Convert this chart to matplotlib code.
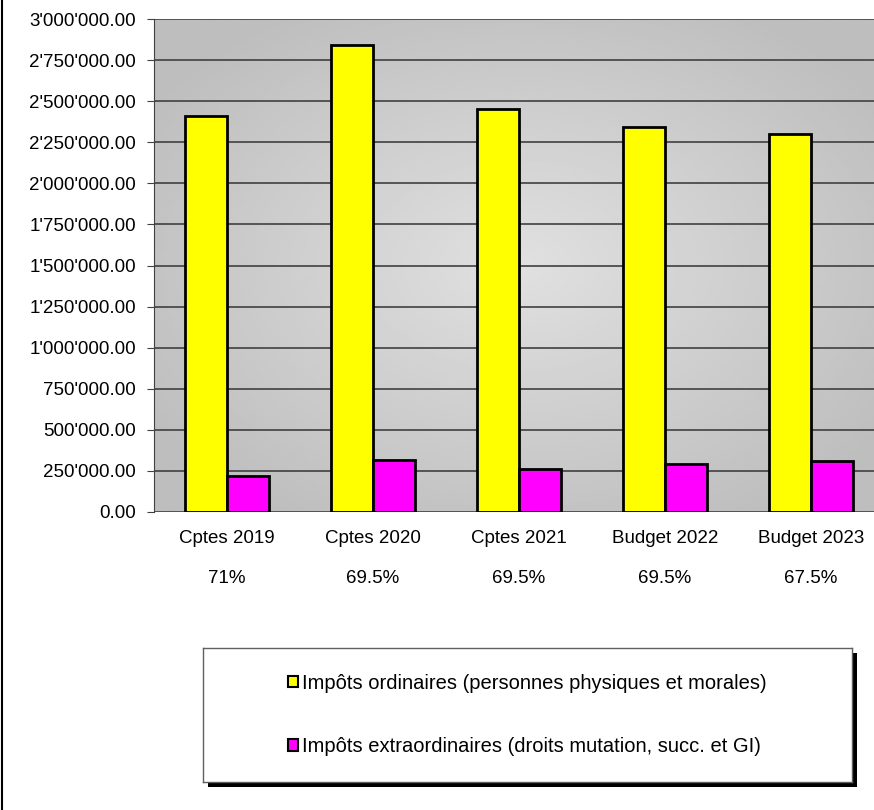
import numpy as np
import matplotlib.pyplot as plt
from matplotlib.patches import Rectangle
from matplotlib.ticker import FuncFormatter

categories = ['Cptes 2019', 'Cptes 2020', 'Cptes 2021', 'Budget 2022', 'Budget 2023']
pourcentages = ['71%', '69.5%', '69.5%', '69.5%', '67.5%']
impots_ordinaires = [2410000, 2842000, 2452000, 2341000, 2302000]
impots_extra = [219000, 315000, 260000, 292000, 310000]
noms_series = ['Impôts ordinaires (personnes physiques et morales)',
               'Impôts extraordinaires (droits mutation, succ. et GI)']

plt.rcParams['font.family'] = ['Liberation Sans', 'DejaVu Sans']

fig = plt.figure(figsize=(8.74, 8.10), dpi=100)
ax = fig.add_axes([154 / 874, 298 / 810, 730 / 874, 493 / 810])

# fond gris en degrade radial
yy, xx = np.mgrid[-1:1:200j, -1:1:200j]
r = np.clip(np.sqrt(xx ** 2 + yy ** 2) / 1.2, 0, 1)
fond = 0.88 - 0.135 * r
ax.imshow(fond, cmap='gray', vmin=0, vmax=1, extent=[0, 1, 0, 1],
          transform=ax.transAxes, aspect='auto', zorder=0, interpolation='bilinear')

x = np.arange(len(categories))
w = 0.29
ax.bar(x - w / 2, impots_ordinaires, w, color='#ffff00', edgecolor='black', linewidth=2, zorder=3)
ax.bar(x + w / 2, impots_extra, w, color='#ff00ff', edgecolor='black', linewidth=2, zorder=3)

ax.set_xlim(-0.5, len(categories) - 0.5)
ax.set_ylim(0, 3000000)
ax.set_yticks(np.arange(0, 3000001, 250000))
ax.yaxis.set_major_formatter(FuncFormatter(lambda v, p: '{:,.2f}'.format(v).replace(',', "'")))
ax.grid(axis='y', color='#404040', linewidth=1.2, zorder=1)
ax.set_axisbelow(True)

ax.set_xticks(x)
ax.set_xticklabels([c + '\n' + p for c, p in zip(categories, pourcentages)],
                   linespacing=2.75, fontsize=13.5)
ax.tick_params(axis='x', length=0, pad=13)
ax.tick_params(axis='y', labelsize=13.5, length=5, color='#404040', pad=8)
for s in ['top', 'right', 'bottom']:
    ax.spines[s].set_visible(False)
ax.spines['left'].set_color('#404040')

# cadre gauche du graphique
fig.add_artist(plt.Line2D([1.5 / 874, 1.5 / 874], [0, 1], color='black', linewidth=1.5))

# boite de legende avec ombre
lx, ly, lw, lh = 203 / 874, 28 / 810, 649 / 874, 134 / 810
fig.add_artist(Rectangle((lx + 5 / 874, ly - 5 / 810), lw, lh, transform=fig.transFigure,
                         facecolor='black', edgecolor='none', zorder=1))
ax_leg = fig.add_axes([lx, ly, lw, lh], zorder=2)
ax_leg.set_xticks([])
ax_leg.set_yticks([])
for s in ax_leg.spines.values():
    s.set_color('#606060')
    s.set_linewidth(1)
poignees = [Rectangle((0, 0), 1, 1, facecolor='#ffff00', edgecolor='black', linewidth=1.5),
            Rectangle((0, 0), 1, 1, facecolor='#ff00ff', edgecolor='black', linewidth=1.5)]
ax_leg.legend(poignees, noms_series, loc='center', frameon=False, fontsize=14.5,
              handlelength=0.5, handleheight=0.5, handletextpad=0.2, labelspacing=2.2)

fig.savefig('out.png', dpi=100, facecolor='white')
